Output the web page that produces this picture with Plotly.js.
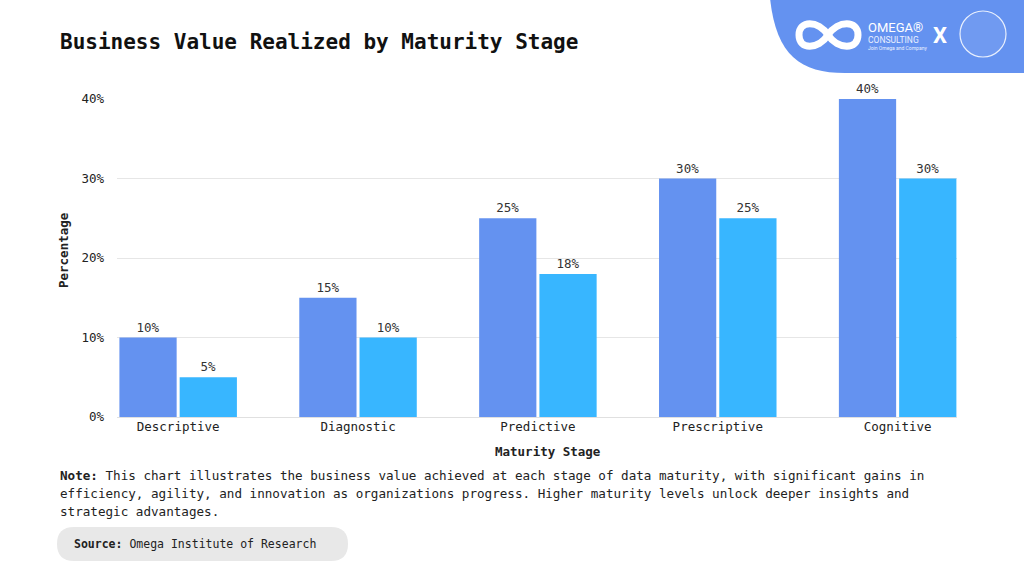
<!DOCTYPE html>
<html><head><meta charset="utf-8">
<script src="https://cdn.plot.ly/plotly-3.0.1.min.js"></script>
<style>html,body{margin:0;padding:0;background:#fff;}#chart{width:1024px;height:576px;}</style>
</head><body><div id="chart"></div>
<script>
const categories = ["Descriptive", "Diagnostic", "Predictive", "Prescriptive", "Cognitive"];
const seriesA = [10, 15, 25, 30, 40];
const seriesB = [5, 10, 18, 25, 30];
const yTicks = [0, 10, 20, 30, 40];
const yTickLabels = ["0%", "10%", "20%", "30%", "40%"];

const W = 1024, H = 576, L = 117, R = 957, T = 99, B = 417;
const px = x => (x - L) / (R - L);
const py = y => (B - y) / (B - T);
const FONT = "DejaVu Sans Mono, Liberation Mono, monospace";

const traces = [
  {type: "bar", x: categories, y: seriesA, name: "Series A", marker: {color: "#6492F0"},
   text: seriesA.map(v => v + "%"), texttemplate: "%{text}", textposition: "outside", cliponaxis: false,
   textfont: {family: FONT, size: 12.5, color: "#333"}, hoverinfo: "none"},
  {type: "bar", x: categories, y: seriesB, name: "Series B", marker: {color: "#38B6FF"},
   text: seriesB.map(v => v + "%"), texttemplate: "%{text}", textposition: "outside", cliponaxis: false,
   textfont: {family: FONT, size: 12.5, color: "#333"}, hoverinfo: "none"}
];

function P(x, y) { return px(x) + "," + py(y); }
const logoPath = `M ${P(770,-2)} C ${P(776,55)} ${P(800,73)} ${P(845,73)} L ${P(1030,73)} L ${P(1030,-2)} Z`;
const infPath = `M ${P(828,35)} C ${P(838,20)} ${P(858,20)} ${P(858,35)} C ${P(858,50)} ${P(838,50)} ${P(828,35)} C ${P(818,20)} ${P(799,20)} ${P(799,35)} C ${P(799,50)} ${P(818,50)} ${P(828,35)} Z`;
const bx0 = 57, bx1 = 348, by0 = 527, by1 = 561, rr = 17;
const boxPath = `M ${P(bx0+rr,by0)} L ${P(bx1-rr,by0)} Q ${P(bx1,by0)} ${P(bx1,by0+rr)} Q ${P(bx1,by1)} ${P(bx1-rr,by1)} L ${P(bx0+rr,by1)} Q ${P(bx0,by1)} ${P(bx0,by1-rr)} Q ${P(bx0,by0)} ${P(bx0+rr,by0)} Z`;

const layout = {
  width: W, height: H,
  margin: {l: L, r: W - R, t: T, b: H - B, pad: 0},
  paper_bgcolor: "#fff", plot_bgcolor: "#fff",
  showlegend: false,
  barmode: "group", bargap: 0.33, bargroupgap: 0.05,
  font: {family: FONT, color: "#222"},
  xaxis: {range: [-0.34, 4.33], tickfont: {family: FONT, size: 12.5, color: "#222"},
          showgrid: false, zeroline: false, showline: false, ticks: "", fixedrange: true},
  yaxis: {range: [0, 40], tickmode: "array", tickvals: yTicks, ticktext: yTickLabels,
          tickfont: {family: FONT, size: 12.5, color: "#222"},
          gridcolor: "#e6e6e6", gridwidth: 1, zeroline: true, zerolinecolor: "#e0e0e0", zerolinewidth: 1,
          showline: false, ticks: "", ticklabelstandoff: 12, fixedrange: true},
  shapes: [
    {type: "path", xref: "paper", yref: "paper", path: logoPath, fillcolor: "#6492F0", line: {width: 0}, layer: "above"},
    {type: "path", xref: "paper", yref: "paper", path: infPath, fillcolor: "rgba(0,0,0,0)", line: {color: "#fff", width: 7}, layer: "above"},
    {type: "circle", xref: "paper", yref: "paper", x0: px(960), x1: px(1006), y0: py(57), y1: py(11),
     line: {color: "rgba(255,255,255,0.85)", width: 1.2}, fillcolor: "rgba(255,255,255,0.08)", layer: "above"},
    {type: "path", xref: "paper", yref: "paper", path: boxPath, fillcolor: "#e8e8e8", line: {width: 0}, layer: "below"}
  ],
  annotations: [
    {xref: "paper", yref: "paper", x: px(58), y: py(42), xanchor: "left", yanchor: "middle", showarrow: false,
     text: "<b>Business Value Realized by Maturity Stage</b>", font: {family: FONT, size: 21, color: "#111"}},
    {xref: "paper", yref: "paper", x: px(63), y: py(250), xanchor: "center", yanchor: "middle", showarrow: false,
     textangle: -90, text: "<b>Percentage</b>", font: {family: FONT, size: 12.5, color: "#222"}},
    {xref: "paper", yref: "paper", x: px(548), y: py(451), xanchor: "center", yanchor: "middle", showarrow: false,
     text: "<b>Maturity Stage</b>", font: {family: FONT, size: 12.5, color: "#222"}},
    {xref: "paper", yref: "paper", x: px(58), y: py(475), xanchor: "left", yanchor: "middle", showarrow: false,
     text: "<b>Note:</b> This chart illustrates the business value achieved at each stage of data maturity, with significant gains in",
     font: {family: FONT, size: 12.6, color: "#222"}},
    {xref: "paper", yref: "paper", x: px(58), y: py(493), xanchor: "left", yanchor: "middle", showarrow: false,
     text: "efficiency, agility, and innovation as organizations progress. Higher maturity levels unlock deeper insights and",
     font: {family: FONT, size: 12.6, color: "#222"}},
    {xref: "paper", yref: "paper", x: px(58), y: py(511), xanchor: "left", yanchor: "middle", showarrow: false,
     text: "strategic advantages.", font: {family: FONT, size: 12.6, color: "#222"}},
    {xref: "paper", yref: "paper", x: px(72), y: py(544), xanchor: "left", yanchor: "middle", showarrow: false,
     text: "<b>Source:</b> Omega Institute of Research", font: {family: FONT, size: 11.5, color: "#222"}},
    {xref: "paper", yref: "paper", x: px(866), y: py(27), xanchor: "left", yanchor: "middle", showarrow: false,
     text: "OMEGA®", font: {family: "Roboto, Liberation Sans", size: 13, color: "#fff"}},
    {xref: "paper", yref: "paper", x: px(866), y: py(40), xanchor: "left", yanchor: "middle", showarrow: false,
     text: "CONSULTING", font: {family: "Roboto, Liberation Sans", size: 8.5, color: "#eaf0ff"}},
    {xref: "paper", yref: "paper", x: px(866), y: py(48), xanchor: "left", yanchor: "middle", showarrow: false,
     text: "Join Omega and Company", font: {family: "Roboto, Liberation Sans", size: 5, color: "#eaf0ff"}},
    {xref: "paper", yref: "paper", x: px(940), y: py(35), xanchor: "center", yanchor: "middle", showarrow: false,
     text: "<b>X</b>", font: {family: "Roboto, Liberation Sans", size: 22, color: "#fff"}}
  ]
};

Plotly.newPlot("chart", traces, layout, {displayModeBar: false, staticPlot: true});
</script></body></html>
